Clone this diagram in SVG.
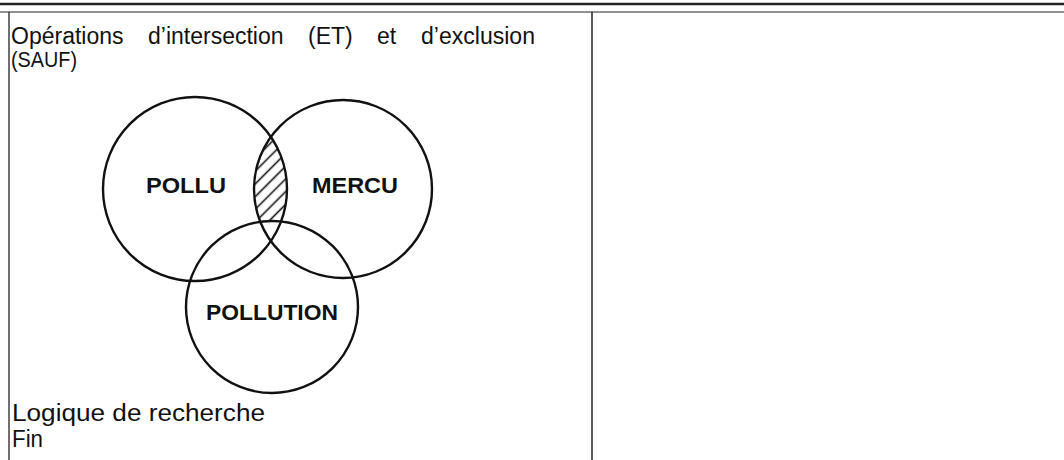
<svg xmlns="http://www.w3.org/2000/svg" width="1064" height="460" viewBox="0 0 1064 460">
<style>
.t{font-family:"Liberation Sans",Arial,sans-serif;font-size:23px;fill:#111}
.b{font-family:"Liberation Sans",Arial,sans-serif;font-size:22px;font-weight:bold;fill:#111}
.c{fill:none;stroke:#111;stroke-width:2.4}
.frame{stroke:#222;fill:none}
</style>
<defs>
<pattern id="hatch" width="9" height="9" patternUnits="userSpaceOnUse" patternTransform="rotate(-45)">
<line x1="0" y1="4.5" x2="9" y2="4.5" stroke="#111" stroke-width="1.6"/>
</pattern>
<clipPath id="cl"><circle cx="195" cy="189" r="92"/></clipPath>
<clipPath id="cr"><circle cx="343" cy="189" r="89"/></clipPath>
<mask id="mb"><rect x="0" y="0" width="1064" height="460" fill="#fff"/><circle cx="272" cy="307" r="86" fill="#000"/></mask>
</defs>
<g id="frame">
<line class="frame" x1="0" y1="4" x2="1064" y2="4" stroke-width="2.5"/>
<line class="frame" x1="0" y1="12" x2="1064" y2="12" stroke-width="1.2"/>
<line class="frame" x1="9" y1="12" x2="9" y2="460" stroke-width="1.3"/>
<line class="frame" x1="592" y1="12" x2="592" y2="460" stroke-width="1.5"/>
</g>
<g id="title">
<text class="t" x="11" y="44">Opérations</text>
<text class="t" x="148" y="44">d’intersection</text>
<text class="t" x="308" y="44">(ET)</text>
<text class="t" x="377" y="44">et</text>
<text class="t" x="421" y="44" textLength="114" lengthAdjust="spacingAndGlyphs">d’exclusion</text>
<text class="t" x="11" y="67" style="font-size:22px" textLength="66" lengthAdjust="spacingAndGlyphs">(SAUF)</text>
</g>
<g id="hatched">
<g clip-path="url(#cl)"><g clip-path="url(#cr)"><rect x="240" y="120" width="70" height="140" fill="url(#hatch)" mask="url(#mb)"/></g></g>
</g>
<g id="pollu">
<circle class="c" cx="195" cy="189" r="92"/>
<text class="b" x="186" y="193" text-anchor="middle" textLength="80" lengthAdjust="spacingAndGlyphs">POLLU</text>
</g>
<g id="mercu">
<circle class="c" cx="343" cy="189" r="89"/>
<text class="b" x="355" y="193" text-anchor="middle" textLength="86" lengthAdjust="spacingAndGlyphs">MERCU</text>
</g>
<g id="pollution">
<circle class="c" cx="272" cy="307" r="86"/>
<text class="b" x="272" y="320" text-anchor="middle" textLength="132" lengthAdjust="spacingAndGlyphs">POLLUTION</text>
</g>
<g id="footer">
<text class="t" x="12" y="421" textLength="253" lengthAdjust="spacingAndGlyphs">Logique de recherche</text>
<text class="t" x="12" y="447" textLength="31" lengthAdjust="spacingAndGlyphs">Fin</text>
</g>
</svg>
